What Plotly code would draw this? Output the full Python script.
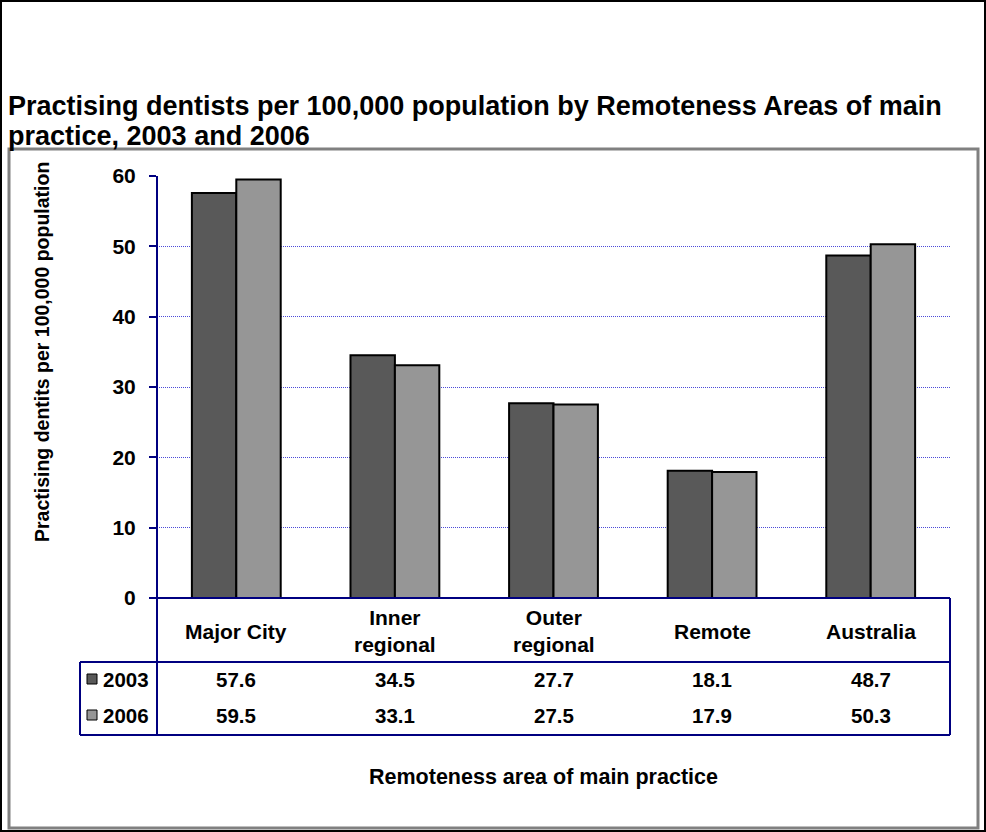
import plotly.graph_objects as go

categories = ["Major City", "Inner regional", "Outer regional", "Remote", "Australia"]
category_labels = ["Major City", "Inner<br>regional", "Outer<br>regional", "Remote", "Australia"]
series_names = ["2003", "2006"]
values_2003 = [57.6, 34.5, 27.7, 18.1, 48.7]
values_2006 = [59.5, 33.1, 27.5, 17.9, 50.3]
y_ticks = [0, 10, 20, 30, 40, 50, 60]

title_lines = ["Practising dentists per 100,000 population by Remoteness Areas of main",
               "practice, 2003 and 2006"]
y_title = "Practising dentits per 100,000 population"
x_title = "Remoteness area of main practice"

W, H = 986, 832
L, R, T, B = 157, 950, 176, 598
FONT = "Liberation Sans, Arial, sans-serif"
NAVY = "#000080"
colors = ["#595959", "#969696"]


def px(x):
    return (x - L) / (R - L)


def py(y):
    return (B - y) / (B - T)


fig = go.Figure()
for name, vals, col in zip(series_names, [values_2003, values_2006], colors):
    fig.add_trace(go.Bar(
        x=categories, y=vals, name=name,
        marker=dict(color=col, line=dict(color="black", width=2)),
        showlegend=False,
    ))

shapes = []
# outer black border
shapes.append(dict(type="rect", xref="paper", yref="paper",
                   x0=px(1), x1=px(985), y0=py(1), y1=py(831),
                   line=dict(color="black", width=2), layer="below"))
# gray chart-area frame
shapes.append(dict(type="rect", xref="paper", yref="paper",
                   x0=px(9), x1=px(978), y0=py(149), y1=py(828),
                   line=dict(color="#808080", width=3), layer="below"))
line_style = dict(color=NAVY, width=2)
# y axis line extended through table
shapes.append(dict(type="line", xref="paper", yref="paper", x0=0, x1=0,
                   y0=py(176), y1=py(735), line=line_style))
# x axis / top of category row
shapes.append(dict(type="line", xref="paper", yref="paper", x0=0, x1=1,
                   y0=0, y1=0, line=line_style))
# right border of table
shapes.append(dict(type="line", xref="paper", yref="paper", x0=1, x1=1,
                   y0=0, y1=py(735), line=line_style))
# series rows top and bottom
shapes.append(dict(type="line", xref="paper", yref="paper", x0=px(80), x1=1,
                   y0=py(662), y1=py(662), line=line_style))
shapes.append(dict(type="line", xref="paper", yref="paper", x0=px(80), x1=1,
                   y0=py(735), y1=py(735), line=line_style))
shapes.append(dict(type="line", xref="paper", yref="paper", x0=px(80), x1=px(80),
                   y0=py(662), y1=py(735), line=line_style))

row_y = [679, 715]
annotations = []
for i, (name, col) in enumerate(zip(series_names, colors)):
    yy = row_y[i]
    shapes.append(dict(type="rect", xref="paper", yref="paper",
                       x0=px(87), x1=px(97), y0=py(yy - 5), y1=py(yy + 5),
                       fillcolor=col, line=dict(color="black", width=1)))
    annotations.append(dict(x=px(101), y=py(yy), xref="paper", yref="paper",
                            text=f"<b>{name}</b>", showarrow=False,
                            xanchor="left", yanchor="middle",
                            font=dict(family=FONT, size=20.5, color="black")))

for c, lab, v1, v2 in zip(categories, category_labels, values_2003, values_2006):
    annotations.append(dict(x=c, y=py(631), xref="x", yref="paper",
                            text=f"<b>{lab}</b>", showarrow=False,
                            xanchor="center", yanchor="middle",
                            font=dict(family=FONT, size=21, color="black")))
    for vv, yy in zip([v1, v2], row_y):
        annotations.append(dict(x=c, y=py(yy), xref="x", yref="paper",
                                text=f"<b>{vv:.1f}</b>", showarrow=False,
                                xanchor="center", yanchor="middle",
                                font=dict(family=FONT, size=20.5, color="black")))

for line, yy in zip(title_lines, [106, 136]):
    annotations.append(dict(x=px(6), y=py(yy), xref="paper", yref="paper",
                            text=f"<b>{line}</b>", showarrow=False,
                            xanchor="left", yanchor="middle", align="left",
                            font=dict(family=FONT, size=27, color="black")))
annotations.append(dict(x=px(42), y=py(352), xref="paper", yref="paper",
                        text=f"<b>{y_title}</b>", showarrow=False, textangle=-90,
                        xanchor="center", yanchor="middle",
                        font=dict(family=FONT, size=19.5, color="black")))
annotations.append(dict(x=px(543), y=py(777), xref="paper", yref="paper",
                        text=f"<b>{x_title}</b>", showarrow=False,
                        xanchor="center", yanchor="middle",
                        font=dict(family=FONT, size=21.5, color="black")))

fig.update_layout(
    width=W, height=H,
    margin=dict(l=L, r=W - R, t=T, b=H - B, pad=0),
    paper_bgcolor="white", plot_bgcolor="white",
    barmode="group", bargap=0.44, bargroupgap=0,
    shapes=shapes, annotations=annotations,
    font=dict(family=FONT, size=20, color="black"),
    xaxis=dict(showticklabels=False, showgrid=False, showline=False,
               ticks="", zeroline=False, fixedrange=True),
    yaxis=dict(range=[0, 60], tickvals=y_ticks,
               ticktext=[f"<b>{t}</b>" for t in y_ticks],
               showgrid=True, gridcolor="#4b4bd8", gridwidth=1,
               griddash="1px,1px", zeroline=False, showline=False,
               ticks="outside", ticklen=7, tickwidth=2, tickcolor=NAVY,
               tickfont=dict(family=FONT, size=21, color="black"),
               ticklabelstandoff=9, fixedrange=True),
)

fig.write_html(
    "out.html",
    config={"displayModeBar": False},
    post_script="document.body.style.margin='0';document.body.style.overflow='hidden';",
)
